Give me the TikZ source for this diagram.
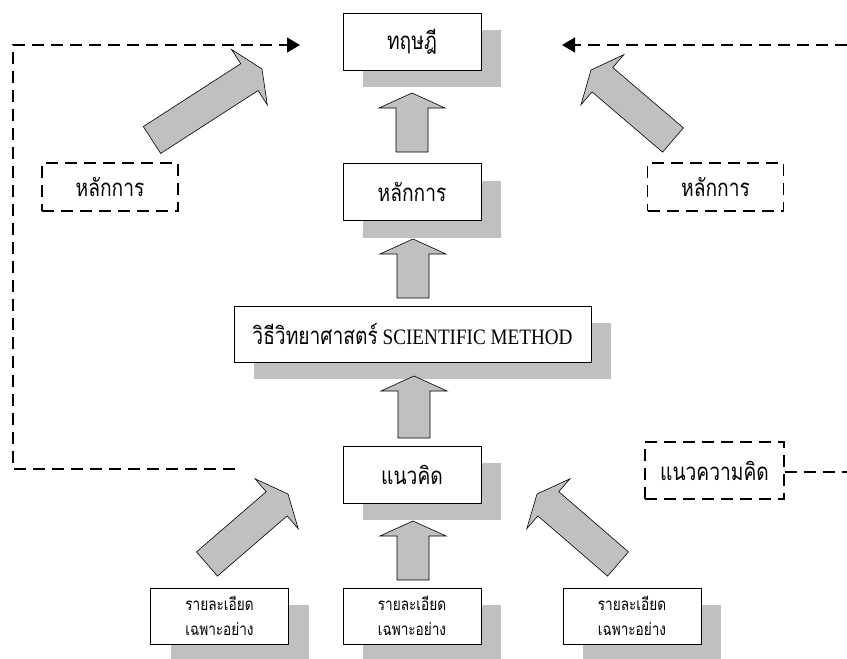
\documentclass[tikz,border=0pt]{standalone}
\usepackage{fontspec}
\setmainfont{Liberation Serif}[FakeStretch=0.87]
\newfontfamily\thaifont[Script=Thai,FakeStretch=0.8]{Loma}
\usetikzlibrary{calc,shadows,arrows.meta}
\definecolor{shadegray}{RGB}{192,192,192}

% big grey block arrow from #1 (tail) to #2 (tip)
\newcommand{\fatarrow}[2]{%
  \coordinate (neck) at ($(#2)!15pt!(#1)$);
  \draw[fatarr] ($(#1)!16pt!90:(#2)$) -- ($(neck)!16pt!-90:(#1)$)
    -- ($(neck)!33pt!-90:(#1)$) -- (#2) -- ($(neck)!33pt!90:(#1)$)
    -- ($(neck)!16pt!90:(#1)$) -- ($(#1)!16pt!-90:(#2)$) -- cycle;}

\tikzset{
  box/.style={draw, fill=white, line width=0.8pt, minimum width=138pt,
    minimum height=57pt, inner sep=0pt,
    drop shadow={opacity=1, fill=shadegray, shadow xshift=20pt, shadow yshift=-17pt},
    font=\thaifont\fontsize{24}{28}\selectfont},
  detail/.style={box, minimum height=56pt, align=center,
    font=\thaifont\fontsize{17}{25}\selectfont},
  dashbox/.style={draw, dash pattern=on 12pt off 7pt, line width=1.3pt,
    minimum width=136pt, minimum height=48pt, inner sep=0pt,
    font=\thaifont\fontsize{24}{28}\selectfont},
  fatarr/.style={draw=black, fill=shadegray, line width=0.6pt},
  link/.style={dash pattern=on 12pt off 7pt, line width=1.3pt},
}

\begin{document}
\begin{tikzpicture}[x=1pt,y=-1pt]
  \useasboundingbox (0,0) rectangle (847,659);

  % main column
  \node[box] (theory) at (412,41.5) {ทฤษฎี};
  \node[box] (prin) at (412,192) {หลักการ};
  \node[box, minimum width=357pt, minimum height=56pt, font=\fontsize{22}{26}\selectfont]
    (method) at (412.5,334) {{\thaifont\fontsize{24}{28}\selectfont วิธีวิทยาศาสตร์} SCIENTIFIC METHOD};
  \node[box] (concept) at (412,474.5) {แนวคิด};

  % details at the bottom
  \node[detail] (detl) at (219.5,616) {รายละเอียด\\เฉพาะอย่าง};
  \node[detail] (detm) at (412,616) {รายละเอียด\\เฉพาะอย่าง};
  \node[detail] (detr) at (632,616) {รายละเอียด\\เฉพาะอย่าง};

  % side boxes
  \node[dashbox] (prinl) at (110,187) {หลักการ};
  \node[dashbox] (prinr) at (715.5,187) {หลักการ};
  \node[dashbox, minimum width=139pt, minimum height=57pt] (idea) at (714.5,470.5) {แนวความคิด};

  % dashed feedback lines
  \coordinate (lstart) at (235,469);
  \coordinate (ltip) at (300,45);
  \coordinate (rtip) at (562,45);
  \coordinate (redge) at (847,45);
  \coordinate (iedge) at (847,472);
  \draw[link, -{Triangle[length=13pt,width=15pt]}] (lstart) -- (13,469) -- (13,45) -- (ltip);
  \draw[link, -{Triangle[length=13pt,width=15pt]}] (redge) -- (rtip);
  \draw[link] (idea.east |- iedge) -- (iedge);

  % block arrows
  \coordinate (a1) at (412,152); \coordinate (b1) at (412,93);
  \coordinate (a2) at (413,298); \coordinate (b2) at (413,239);
  \coordinate (a3) at (414,438); \coordinate (b3) at (414,376);
  \coordinate (a4) at (413,580); \coordinate (b4) at (413,521);
  \coordinate (a5) at (152,140); \coordinate (b5) at (262,69);
  \coordinate (a6) at (673,140); \coordinate (b6) at (591,70);
  \coordinate (a7) at (207,564); \coordinate (b7) at (288,494);
  \coordinate (a8) at (618,564); \coordinate (b8) at (537,494);
  \foreach \i in {1,...,8} {\fatarrow{a\i}{b\i}}
\end{tikzpicture}
\end{document}
